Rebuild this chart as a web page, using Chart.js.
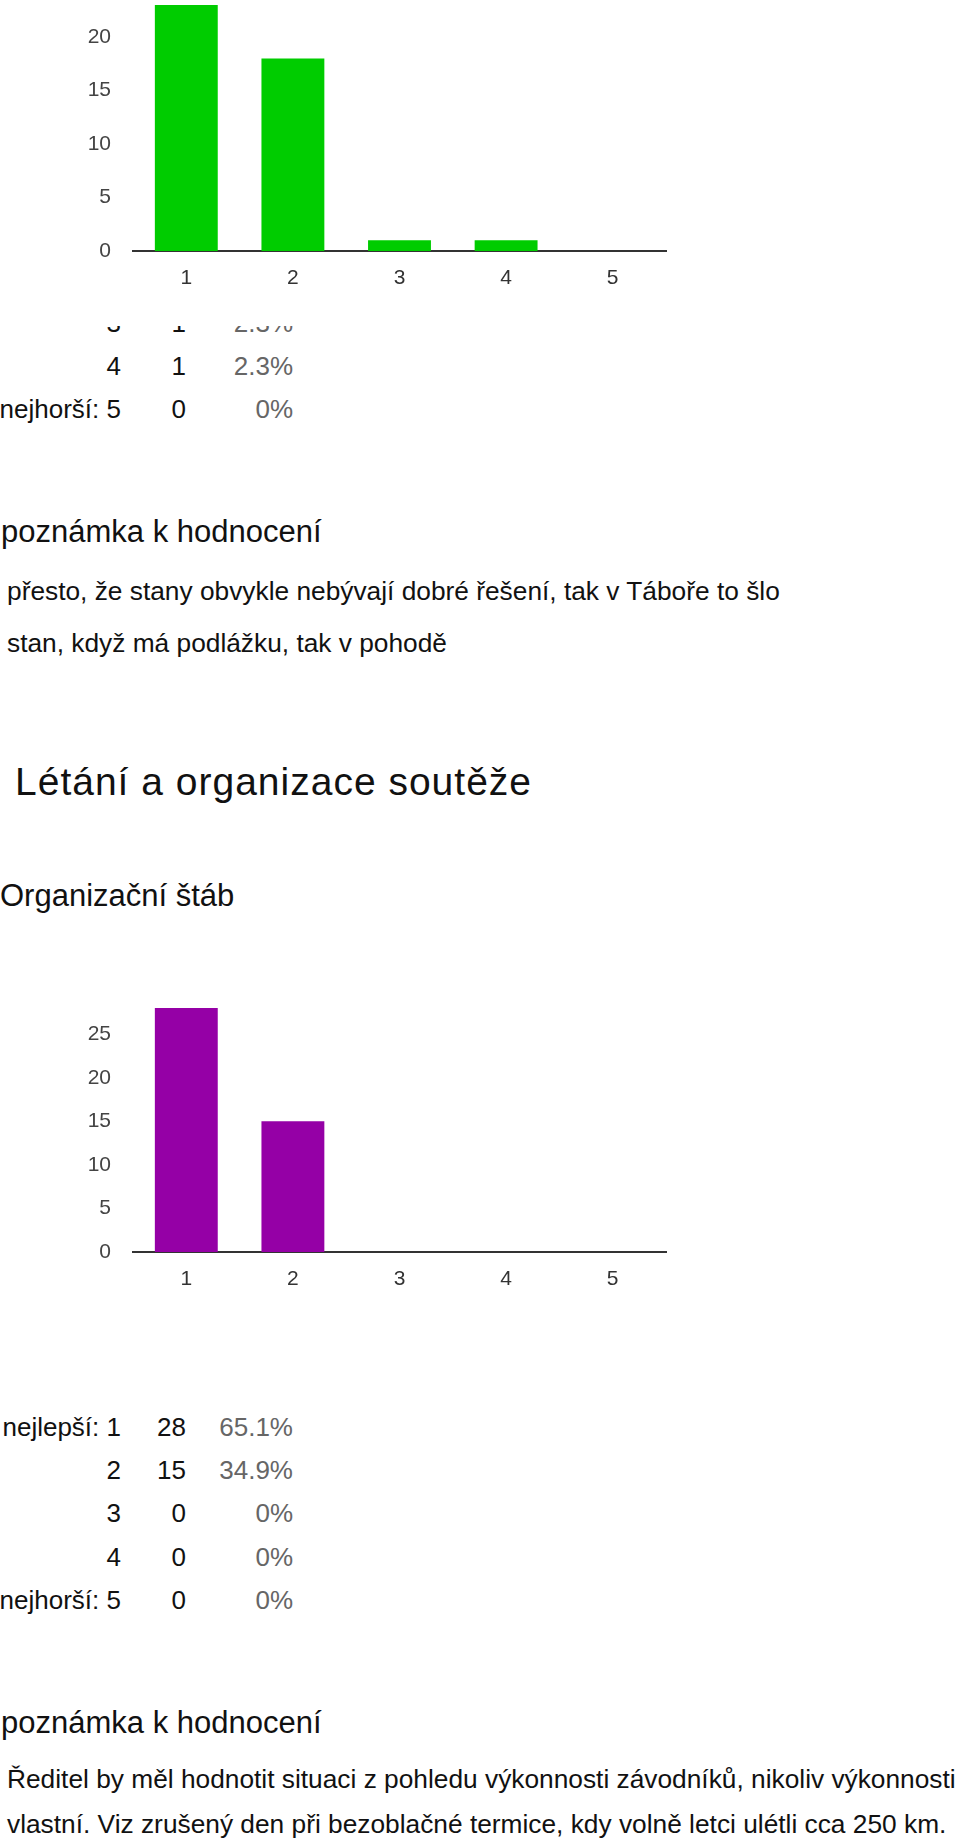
<!DOCTYPE html>
<html lang="cs">
<head>
<meta charset="utf-8">
<title>Hodnocení</title>
<script src="https://cdn.jsdelivr.net/npm/chart.js@4.4.1/dist/chart.umd.min.js"></script>
<style>
  html, body { margin: 0; padding: 0; background: #fff; }
  body { position: relative; width: 960px; height: 1844px; overflow: hidden;
         font-family: "Liberation Sans", Arial, sans-serif; color: #111; }
  .chart { position: absolute; left: 0; width: 700px; background: #fff; z-index: 2; }
  .txt { position: absolute; white-space: nowrap; }
  .h2 { font-size: 31px; line-height: 40px; }
  .note { font-size: 26.3px; }
  .title { font-size: 39px; line-height: 46px; letter-spacing: 1px; }
  .row { position: absolute; left: 0; width: 300px; height: 44px; line-height: 44px; font-size: 26px; }
  .row span { position: absolute; top: 0; text-align: right; white-space: nowrap; }
  .c1 { left: -79px; width: 200px; }
  .c2 { left: 121px; width: 65px; }
  .c3 { left: 186px; width: 107px; color: #666; }
</style>
</head>
<body>

<!-- plocha grafu zacina ~34.6px pod hranou canvasu (odsazeni od osy y) -->
<div class="chart" style="top:-51px;height:377px"><canvas id="topChart" width="700" height="377"></canvas></div>
<div id="topTable"></div>

<div class="txt h2" style="top:512px;left:1px">poznámka k hodnocení</div>
<div class="txt note" style="top:565px;left:7px;line-height:52px">přesto, že stany obvykle nebývají dobré řešení, tak v Táboře to šlo<br>stan, když má podlážku, tak v pohodě</div>

<div class="txt title" style="top:759px;left:15px">Létání a organizace soutěže</div>
<div class="txt h2" style="top:876px;left:0">Organizační štáb</div>

<div class="chart" style="top:956px;height:356px"><canvas id="stabChart" width="700" height="356"></canvas></div>
<div id="stabTable"></div>

<div class="txt h2" style="top:1703px;left:1px">poznámka k hodnocení</div>
<div class="txt note" style="top:1757px;left:7px;line-height:45px">Ředitel by měl hodnotit situaci z pohledu výkonnosti závodníků, nikoliv výkonnosti<br>vlastní. Viz zrušený den při bezoblačné termice, kdy volně letci ulétli cca 250 km.</div>

<script>
// hodnoceni 1 (nejlepsi) .. 5 (nejhorsi)
const categories = ['1', '2', '3', '4', '5'];
const rowLabels = ['nejlepší: 1', '2', '3', '4', 'nejhorší: 5'];

// prvni graf (ubytovani) - horni cast je oriznuta
const topCounts = [23, 18, 1, 1, 0];
const topPercents = ['53.5%', '41.9%', '2.3%', '2.3%', '0%'];
const topTicks = [0, 5, 10, 15, 20];

// organizacni stab
const stabCounts = [28, 15, 0, 0, 0];
const stabPercents = ['65.1%', '34.9%', '0%', '0%', '0%'];
const stabTicks = [0, 5, 10, 15, 20, 25];

function makeChart(id, counts, ticks, max, color, xHeight) {
    const ctx = document.getElementById(id).getContext('2d');
    return new Chart(ctx, {
        type: 'bar',
        data: {
            labels: categories,
            datasets: [{
                data: counts,
                backgroundColor: color,
                barPercentage: 0.59,
                categoryPercentage: 1.0
            }]
        },
        options: {
            responsive: false,
            animation: false,
            layout: { padding: { top: 0, right: 34, left: 0, bottom: 0 } },
            plugins: { legend: { display: false }, tooltip: { enabled: false } },
            scales: {
                x: {
                    grid: { display: false, drawTicks: false },
                    border: { display: true, color: '#333', width: 2 },
                    ticks: { color: '#333', padding: 15, font: { family: 'Liberation Sans', size: 21 } },
                    afterFit: axis => { axis.height = xHeight; }
                },
                y: {
                    min: 0,
                    max: max,
                    grid: { display: false, drawTicks: false },
                    border: { display: false },
                    ticks: { color: '#444', padding: 22, font: { family: 'Liberation Sans', size: 21 } },
                    afterBuildTicks: axis => { axis.ticks = ticks.map(v => ({ value: v })); },
                    afterFit: axis => { axis.width = 133; }
                }
            }
        }
    });
}

function makeTable(id, top, percents, counts, from) {
    const box = document.getElementById(id);
    for (let i = from; i < rowLabels.length; i++) {
        const row = document.createElement('div');
        row.className = 'row';
        row.style.top = (top + (i - from) * 43.3) + 'px';
        row.innerHTML = '<span class="c1">' + rowLabels[i] + '</span>' +
                        '<span class="c2">' + counts[i] + '</span>' +
                        '<span class="c3">' + percents[i] + '</span>';
        box.appendChild(row);
    }
}

makeChart('topChart', topCounts, topTicks, 25, '#00cc00', 75);
makeChart('stabChart', stabCounts, stabTicks, 30, '#9500a6', 60);

// horni tabulka zacina az radkem 3 (zbytek je pod grafem)
makeTable('topTable', 300.7, topPercents, topCounts, 2);
makeTable('stabTable', 1404.7, stabPercents, stabCounts, 0);
</script>
</body>
</html>
